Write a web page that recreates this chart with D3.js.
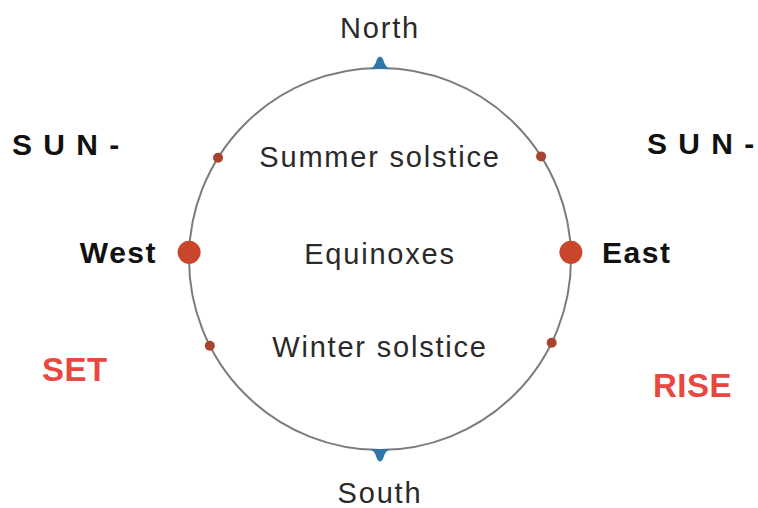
<!DOCTYPE html>
<head>
    <title>Sunrise and sunset directions</title>
    <script src="https://d3js.org/d3.v7.min.js"></script>
    <style>
        body { margin: 0; background: #fff; }
        .lbl { font-family: "Liberation Sans", Arial, sans-serif; font-size: 29px; fill: #2a2a2a; letter-spacing: 1.8px; }
        .bold { font-weight: bold; fill: #111; font-size: 30px; letter-spacing: 1.5px; }
        .red { font-weight: bold; fill: #e9473f; font-size: 33px; letter-spacing: 0.5px; }
    </style>
</head>
<body>
    <svg id="chart" width="758" height="508"></svg>
    <script>
        // azimuths in degrees, clockwise from north
        var seasons = ["Summer solstice", "Equinoxes", "Winter solstice"];
        var riseAzimuth = [57.5, 88, 116];
        var setAzimuth = [302, 272, 243];
        var dotSize = [5, 11.5, 5];
        var compassNames = ["North", "South"];
        var compassAzimuth = [0, 180];

        var svg = d3.select("#chart");
        var cx = 380, cy = 259, r = 191;

        var ang = d3.scaleLinear().domain([0, 360]).range([0, 2 * Math.PI]);
        function px(a) { return cx + r * Math.sin(ang(a)); }
        function py(a) { return cy - r * Math.cos(ang(a)); }

        svg.append("circle")
            .attr("cx", cx).attr("cy", cy).attr("r", r)
            .attr("fill", "none")
            .attr("stroke", "#7c7c7c")
            .attr("stroke-width", 2);

        // north / south markers
        svg.selectAll(".marker")
            .data(compassAzimuth)
            .enter().append("path")
            .attr("class", "marker")
            .attr("d", "M-10,1 Q-5,-1 -3,-9 Q0,-14 3,-9 Q5,-1 10,1 Z")
            .attr("fill", "#2f77a8")
            .attr("transform", function (d) {
                return "translate(" + px(d) + "," + py(d) + ") rotate(" + d + ")";
            });

        svg.selectAll(".compass")
            .data(compassNames)
            .enter().append("text")
            .attr("class", "lbl")
            .attr("text-anchor", "middle")
            .attr("x", cx)
            .attr("y", function (d, i) { return i === 0 ? 38 : 503; })
            .text(function (d) { return d; });

        var dotColor = function (i) { return i === 1 ? "#c9452b" : "#a8432f"; };

        svg.selectAll(".rise")
            .data(riseAzimuth)
            .enter().append("circle")
            .attr("cx", function (d) { return px(d); })
            .attr("cy", function (d) { return py(d); })
            .attr("r", function (d, i) { return dotSize[i]; })
            .attr("fill", function (d, i) { return dotColor(i); });

        svg.selectAll(".set")
            .data(setAzimuth)
            .enter().append("circle")
            .attr("cx", function (d) { return px(d); })
            .attr("cy", function (d) { return py(d); })
            .attr("r", function (d, i) { return dotSize[i]; })
            .attr("fill", function (d, i) { return dotColor(i); });

        // season labels inside the circle
        var seasonY = [167, 264, 357];
        svg.selectAll(".season")
            .data(seasons)
            .enter().append("text")
            .attr("class", "lbl")
            .attr("text-anchor", "middle")
            .attr("x", cx)
            .attr("y", function (d, i) { return seasonY[i]; })
            .text(function (d) { return d; });

        svg.append("text").attr("class", "lbl bold")
            .attr("text-anchor", "end")
            .attr("x", 157).attr("y", 263).text("West");
        svg.append("text").attr("class", "lbl bold")
            .attr("x", 602).attr("y", 263).text("East");

        svg.append("text").attr("class", "lbl bold")
            .attr("x", 12).attr("y", 155).text("S U N -");
        svg.append("text").attr("class", "lbl bold")
            .attr("x", 647).attr("y", 154).text("S U N -");

        svg.append("text").attr("class", "lbl red")
            .attr("x", 42).attr("y", 381).text("SET");
        svg.append("text").attr("class", "lbl red")
            .attr("x", 653).attr("y", 397).text("RISE");
    </script>
</body>
